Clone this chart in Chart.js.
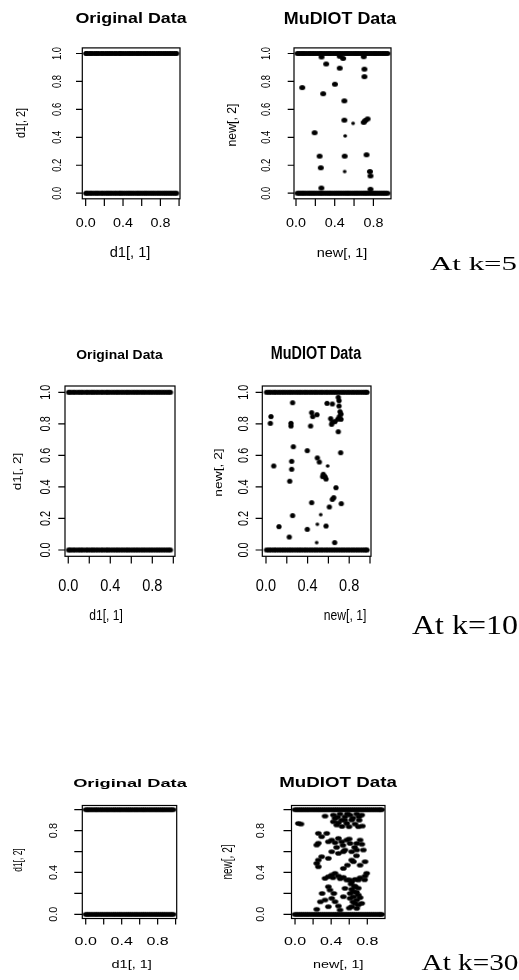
<!DOCTYPE html>
<html>
<head>
<meta charset="utf-8">
<script src="https://cdn.jsdelivr.net/npm/chart.js@4.4.1/dist/chart.umd.min.js"></script>
<style>
  body { margin: 0; background: #fff; width: 519px; height: 980px; position: relative; overflow: hidden; }
  canvas { position: absolute; }
</style>
</head>
<body>
<canvas id="p1"></canvas>
<canvas id="p2"></canvas>
<canvas id="p3"></canvas>
<canvas id="p4"></canvas>
<canvas id="p5"></canvas>
<canvas id="p6"></canvas>
<script>
// ===== Ticks =====
const xTicks = [0, 0.2, 0.4, 0.6, 0.8, 1.0];
const yTicks = [0, 0.2, 0.4, 0.6, 0.8, 1.0];
const xTickLabels = ['0.0', '', '0.4', '', '0.8', ''];
const yTickLabels = ['0.0', '0.2', '0.4', '0.6', '0.8', '1.0'];
const yTickLabelsShort = ['0.0', '', '0.4', '', '0.8', ''];

// ===== Original data (x of the points lying on y=0 and y=1) =====
const origX = [0.003, 0.021, 0.046, 0.068, 0.094, 0.117, 0.139, 0.166, 0.188, 0.214, 0.236, 0.259, 0.283, 0.309,
  0.331, 0.357, 0.378, 0.402, 0.427, 0.451, 0.474, 0.498, 0.522, 0.547, 0.569, 0.593, 0.618, 0.641, 0.664, 0.689,
  0.713, 0.736, 0.761, 0.784, 0.808, 0.833, 0.856, 0.879, 0.903, 0.927, 0.951, 0.972];

// ===== MuDIOT data: points on y=0 / y=1 =====
const bandX5 = [0.016, 0.038, 0.061, 0.083, 0.107, 0.131, 0.152, 0.176, 0.199, 0.223, 0.247, 0.268, 0.292, 0.316,
  0.339, 0.361, 0.386, 0.409, 0.432, 0.455, 0.479, 0.503, 0.526, 0.548, 0.572, 0.596, 0.619, 0.642, 0.665, 0.689,
  0.712, 0.734, 0.758, 0.781, 0.805, 0.828, 0.851, 0.874, 0.898, 0.921, 0.945];
const bandX10 = [0.005, 0.029, 0.052, 0.077, 0.099, 0.124, 0.148, 0.171, 0.195, 0.219, 0.242, 0.266, 0.291, 0.314,
  0.337, 0.362, 0.385, 0.409, 0.433, 0.457, 0.48, 0.504, 0.528, 0.551, 0.576, 0.599, 0.623, 0.647, 0.67, 0.694,
  0.718, 0.741, 0.765, 0.789, 0.812, 0.836, 0.86, 0.883, 0.907, 0.93, 0.952, 0.971];
const bandX30 = [0.0, 0.022, 0.047, 0.069, 0.093, 0.117, 0.14, 0.163, 0.188, 0.211, 0.235, 0.258, 0.281, 0.306,
  0.329, 0.353, 0.376, 0.399, 0.424, 0.447, 0.47, 0.494, 0.518, 0.541, 0.565, 0.588, 0.612, 0.635, 0.659, 0.683,
  0.706, 0.729, 0.753, 0.777, 0.8, 0.823, 0.847, 0.871, 0.894, 0.918, 0.94, 0.958];

// ===== MuDIOT data: synthetic points in between =====
const k5X = [0.264, 0.452, 0.487, 0.700, 0.312, 0.452, 0.707, 0.707, 0.064, 0.402, 0.281, 0.500, 0.500, 0.700,
  0.716, 0.740, 0.192, 0.244, 0.503, 0.729, 0.256, 0.764, 0.770, 0.262, 0.770];
const k5Y = [0.975, 0.980, 0.965, 0.977, 0.925, 0.895, 0.888, 0.834, 0.756, 0.780, 0.712, 0.661, 0.523, 0.507,
  0.520, 0.532, 0.433, 0.265, 0.265, 0.275, 0.182, 0.155, 0.124, 0.037, 0.028];
const k5SmallX = [0.590, 0.508, 0.503];
const k5SmallY = [0.500, 0.410, 0.155];

const k10X = [0.256, 0.587, 0.638, 0.695, 0.702, 0.702, 0.712, 0.721, 0.439, 0.449, 0.490, 0.048, 0.042, 0.240,
  0.240, 0.429, 0.622, 0.638, 0.631, 0.663, 0.689, 0.705, 0.721, 0.695, 0.263, 0.397, 0.718, 0.074, 0.247, 0.247,
  0.494, 0.513, 0.551, 0.567, 0.577, 0.545, 0.228, 0.673, 0.651, 0.638, 0.439, 0.724, 0.609, 0.256, 0.125, 0.397,
  0.577, 0.224, 0.660];
const k10Y = [0.934, 0.930, 0.926, 0.968, 0.947, 0.913, 0.877, 0.862, 0.871, 0.846, 0.858, 0.846, 0.803, 0.803,
  0.786, 0.786, 0.833, 0.812, 0.797, 0.814, 0.829, 0.846, 0.829, 0.750, 0.655, 0.630, 0.617, 0.533, 0.562, 0.512,
  0.584, 0.558, 0.480, 0.465, 0.450, 0.465, 0.436, 0.395, 0.332, 0.321, 0.300, 0.294, 0.273, 0.218, 0.148, 0.131,
  0.152, 0.082, 0.047];
const k10SmallX = [0.593, 0.526, 0.494, 0.487];
const k10SmallY = [0.533, 0.224, 0.163, 0.047];

const k30X = [0.037, 0.066, 0.332, 0.424, 0.443, 0.498, 0.517, 0.553, 0.609, 0.627, 0.683, 0.708, 0.738,
  0.424, 0.461, 0.480, 0.572, 0.598, 0.664, 0.701, 0.745, 0.258, 0.295, 0.351, 0.240, 0.258,
  0.369, 0.406, 0.443, 0.480, 0.517, 0.572, 0.609, 0.683, 0.720, 0.406, 0.480, 0.535, 0.553, 0.627, 0.683, 0.756,
  0.258, 0.295, 0.240, 0.258, 0.369, 0.535, 0.627, 0.646, 0.775,
  0.332, 0.369, 0.406, 0.443, 0.480, 0.535, 0.572, 0.627, 0.664, 0.701, 0.775, 0.793,
  0.369, 0.387, 0.553, 0.627, 0.646, 0.664,
  0.332, 0.406, 0.443, 0.535, 0.609, 0.646, 0.683, 0.701, 0.664, 0.738,
  0.240, 0.369, 0.480, 0.498, 0.627, 0.683,
  0.620, 0.660, 0.700, 0.610, 0.680, 0.640, 0.700, 0.600, 0.720,
  0.420, 0.500, 0.600, 0.720, 0.770,
  0.460, 0.530, 0.600, 0.660, 0.740,
  0.470, 0.550, 0.640, 0.710, 0.580, 0.520,
  0.580, 0.680, 0.720, 0.280, 0.300, 0.430];
const k30Y = [0.869, 0.863, 0.939, 0.949, 0.917, 0.959, 0.901, 0.933, 0.949, 0.901, 0.959, 0.933, 0.949,
  0.885, 0.854, 0.876, 0.869, 0.838, 0.863, 0.838, 0.844, 0.774, 0.742, 0.774, 0.662, 0.680,
  0.694, 0.710, 0.685, 0.726, 0.694, 0.710, 0.678, 0.678, 0.710, 0.599, 0.583, 0.599, 0.615, 0.599, 0.615, 0.615,
  0.519, 0.551, 0.487, 0.455, 0.535, 0.439, 0.519, 0.503, 0.503,
  0.344, 0.360, 0.376, 0.392, 0.366, 0.354, 0.328, 0.312, 0.334, 0.328, 0.366, 0.392,
  0.264, 0.232, 0.248, 0.239, 0.217, 0.264,
  0.137, 0.153, 0.121, 0.169, 0.153, 0.169, 0.137, 0.185, 0.105, 0.105,
  0.048, 0.073, 0.080, 0.041, 0.073, 0.057,
  0.290, 0.270, 0.250, 0.200, 0.210, 0.120, 0.090, 0.060, 0.160,
  0.350, 0.340, 0.330, 0.350, 0.330,
  0.640, 0.660, 0.720, 0.640, 0.670,
  0.930, 0.900, 0.920, 0.900, 0.960, 0.840,
  0.470, 0.560, 0.470, 0.120, 0.200, 0.200];

// ===== Helpers =====
function dot(w, h) {
  const c = document.createElement('canvas');
  c.width = Math.ceil(w) + 2;
  c.height = Math.ceil(h) + 2;
  const g = c.getContext('2d');
  g.fillStyle = '#000';
  g.beginPath();
  g.ellipse(c.width / 2, c.height / 2, w / 2, h / 2, 0, 0, Math.PI * 2);
  g.fill();
  return c;
}

const pts = (xs, ys) => xs.map((x, i) => ({ x: x, y: ys[i] }));
const line = (xs, yv) => xs.map(x => ({ x: x, y: yv }));

// draws text so that its ink box is centred on (cx, cy) and sized along/across
function fitText(ctx, str, cx, cy, o) {
  ctx.save();
  ctx.font = (o.bold ? 'bold ' : '') + o.size + 'px ' + (o.family || '"Liberation Sans", Arial, sans-serif');
  ctx.fillStyle = o.color || '#000';
  ctx.textAlign = 'center';
  ctx.textBaseline = 'alphabetic';
  const m = ctx.measureText(o.ref || str);
  const w = m.actualBoundingBoxLeft + m.actualBoundingBoxRight;
  const h = m.actualBoundingBoxAscent + m.actualBoundingBoxDescent;
  ctx.translate(cx, cy);
  if (o.rot) ctx.rotate(-Math.PI / 2);
  ctx.scale(o.along ? o.along / w : 1, o.across ? o.across / h : 1);
  ctx.fillText(str, 0, (m.actualBoundingBoxAscent - m.actualBoundingBoxDescent) / 2);
  ctx.restore();
}

// R-style frame, ticks and labels
function rAxes(p) {
  return {
    id: 'rAxes',
    afterDraw(chart) {
      const ctx = chart.ctx, a = chart.chartArea, xs = chart.scales.x, ys = chart.scales.y;
      const ox = p.cv[0], oy = p.cv[1];
      ctx.save();
      ctx.strokeStyle = '#000';
      ctx.lineWidth = 1.2;
      ctx.strokeRect(a.left, a.top, a.right - a.left, a.bottom - a.top);
      ctx.beginPath();
      xTicks.forEach((v, i) => {
        if (v < xs.min || v > xs.max) return;
        const px = xs.getPixelForValue(v);
        ctx.moveTo(px, a.bottom);
        ctx.lineTo(px, a.bottom + p.xTickLen);
        if (xTickLabels[i]) fitText(ctx, xTickLabels[i], px, p.xt.cy - oy, p.xt);
      });
      yTicks.forEach((v, i) => {
        const py = ys.getPixelForValue(v);
        ctx.moveTo(a.left, py);
        ctx.lineTo(a.left - p.yTickLen, py);
        const lab = p.yLabels[i];
        if (lab) fitText(ctx, lab, p.yt.cx - ox, py, p.yt);
      });
      ctx.stroke();
      p.texts.forEach(t => fitText(ctx, t.s, t.cx - ox, t.cy - oy, t));
      ctx.restore();
    }
  };
}

// ===== Panels =====
const serif = '"Liberation Serif", "Times New Roman", serif';

const panels = [
  { id: 'p1', cv: [0, 0, 200, 290], box: [82.3, 47.9, 180, 198.8], xmin: -0.036, xmax: 1.01,
    dotW: 5.5, dotH: 5, xTickLen: 7.3, yTickLen: 6.3, yLabels: yTickLabels,
    xt: { cy: 222.5, size: 12.5, along: 20, across: 9, ref: '0.0' },
    yt: { cx: 56, size: 10, rot: true, along: 13.5, across: 10, ref: '0.0' },
    texts: [
      { s: 'Original Data', cx: 131, cy: 19.5, size: 15, bold: true, along: 112, across: 13 },
      { s: 'd1[, 1]', cx: 130, cy: 253.5, size: 13, along: 40, across: 13 },
      { s: 'd1[, 2]', cx: 21, cy: 123, size: 11, rot: true, along: 30, across: 12 }
    ],
    sets: [line(origX, 1), line(origX, 0)] },
  { id: 'p2', cv: [200, 0, 319, 290], box: [294, 47.9, 391, 198.8], xmin: -0.0207, xmax: 0.982,
    dotW: 6, dotH: 5, xTickLen: 7.3, yTickLen: 6.3, yLabels: yTickLabels,
    xt: { cy: 222.5, size: 12.5, along: 20, across: 9, ref: '0.0' },
    yt: { cx: 264.5, size: 10, rot: true, along: 13.5, across: 10, ref: '0.0' },
    texts: [
      { s: 'MuDIOT Data', cx: 340, cy: 18.5, size: 15, bold: true, along: 112, across: 10.5 },
      { s: 'new[, 1]', cx: 342, cy: 254, size: 13, along: 50, across: 12 },
      { s: 'new[, 2]', cx: 232.5, cy: 125, size: 11, rot: true, along: 43, across: 11 },
      { s: 'At k=5', cx: 473.5, cy: 263.3, size: 20, family: serif, along: 87, across: 13.3 }
    ],
    sets: [line(bandX5, 1), line(bandX5, 0), pts(k5X, k5Y)],
    small: pts(k5SmallX, k5SmallY) },
  { id: 'p3', cv: [0, 320, 200, 330], box: [65, 386, 175, 556.3], xmin: -0.031, xmax: 1.016,
    dotW: 5.3, dotH: 5, xTickLen: 7.3, yTickLen: 6.7, yLabels: yTickLabels,
    xt: { cy: 584.5, size: 13, along: 20, across: 12, ref: '0.0' },
    yt: { cx: 44.7, size: 11, rot: true, along: 15, across: 10.7, ref: '0.0' },
    texts: [
      { s: 'Original Data', cx: 119.5, cy: 355, size: 15, bold: true, along: 87, across: 12.3 },
      { s: 'd1[, 1]', cx: 106, cy: 617, size: 13, along: 33, across: 13 },
      { s: 'd1[, 2]', cx: 18.3, cy: 471.5, size: 12, rot: true, along: 37, across: 11.3 }
    ],
    sets: [line(origX, 1), line(origX, 0)] },
  { id: 'p4', cv: [200, 320, 319, 330], box: [262.3, 386, 371, 556.3], xmin: -0.0355, xmax: 1.0096,
    dotW: 5.3, dotH: 5, xTickLen: 7.3, yTickLen: 6.7, yLabels: yTickLabels,
    xt: { cy: 584.5, size: 13, along: 20, across: 12, ref: '0.0' },
    yt: { cx: 242.5, size: 11, rot: true, along: 15, across: 10.7, ref: '0.0' },
    texts: [
      { s: 'MuDIOT Data', cx: 316, cy: 353, size: 15, bold: true, along: 90, across: 12 },
      { s: 'new[, 1]', cx: 345, cy: 617, size: 13, along: 42, across: 13 },
      { s: 'new[, 2]', cx: 219, cy: 472.5, size: 12, rot: true, along: 48, across: 11.7 },
      { s: 'At k=10', cx: 465, cy: 625.3, size: 26, family: serif, along: 106, across: 17.3 }
    ],
    sets: [line(bandX10, 1), line(bandX10, 0), pts(k10X, k10Y)],
    small: pts(k10SmallX, k10SmallY) },
  { id: 'p5', cv: [0, 760, 200, 220], box: [82.3, 805.5, 176.7, 918.5], xmin: -0.038, xmax: 1.012,
    dotW: 6.5, dotH: 4.7, xTickLen: 6, yTickLen: 8, yLabels: yTickLabelsShort,
    xt: { cy: 940.8, size: 12, along: 22.7, across: 8.3, ref: '0.0' },
    yt: { cx: 52.5, size: 11, rot: true, along: 15, across: 8.3, ref: '0.0' },
    texts: [
      { s: 'Original Data', cx: 130, cy: 784, size: 14, bold: true, along: 114, across: 11.7 },
      { s: 'd1[, 1]', cx: 131.7, cy: 965, size: 12, along: 40, across: 10 },
      { s: 'd1[, 2]', cx: 18.3, cy: 860, size: 11, rot: true, along: 23.3, across: 11.3 }
    ],
    sets: [line(origX, 1), line(origX, 0)] },
  { id: 'p6', cv: [200, 760, 319, 220], box: [291.5, 805.5, 385, 918.5], xmin: -0.039, xmax: 0.996,
    dotW: 6.5, dotH: 4.7, xTickLen: 6, yTickLen: 8, yLabels: yTickLabelsShort,
    xt: { cy: 940.8, size: 12, along: 22.7, across: 8.3, ref: '0.0' },
    yt: { cx: 260, size: 11, rot: true, along: 15, across: 8.3, ref: '0.0' },
    texts: [
      { s: 'MuDIOT Data', cx: 338, cy: 781, size: 14, bold: true, along: 118, across: 11 },
      { s: 'new[, 1]', cx: 338.3, cy: 965.3, size: 12, along: 50, across: 10.7 },
      { s: 'new[, 2]', cx: 228.3, cy: 862, size: 11, rot: true, along: 35, across: 13.3 },
      { s: 'At k=30', cx: 470, cy: 962.5, size: 22, family: serif, along: 97, across: 15 }
    ],
    sets: [line(bandX30, 1), line(bandX30, 0), pts(k30X, k30Y)] }
];

panels.forEach(p => {
  const cv = document.getElementById(p.id);
  cv.width = p.cv[2];
  cv.height = p.cv[3];
  cv.style.left = p.cv[0] + 'px';
  cv.style.top = p.cv[1] + 'px';
  const big = dot(p.dotW, p.dotH);
  const datasets = p.sets.map(d => ({ data: d, pointStyle: big, pointRadius: 3 }));
  if (p.small) datasets.push({ data: p.small, pointStyle: dot(3.8, 3.6), pointRadius: 2 });
  new Chart(cv.getContext('2d'), {
    type: 'scatter',
    data: { datasets: datasets },
    options: {
      responsive: false,
      animation: false,
      devicePixelRatio: 1,
      events: [],
      layout: { padding: {
        left: p.box[0] - p.cv[0],
        top: p.box[1] - p.cv[1],
        right: p.cv[0] + p.cv[2] - p.box[2],
        bottom: p.cv[1] + p.cv[3] - p.box[3]
      } },
      plugins: { legend: { display: false }, tooltip: { enabled: false } },
      scales: {
        x: { type: 'linear', display: false, min: p.xmin, max: p.xmax },
        y: { type: 'linear', display: false, min: -0.04, max: 1.04 }
      }
    },
    plugins: [rAxes(p)]
  });
});
</script>
</body>
</html>
